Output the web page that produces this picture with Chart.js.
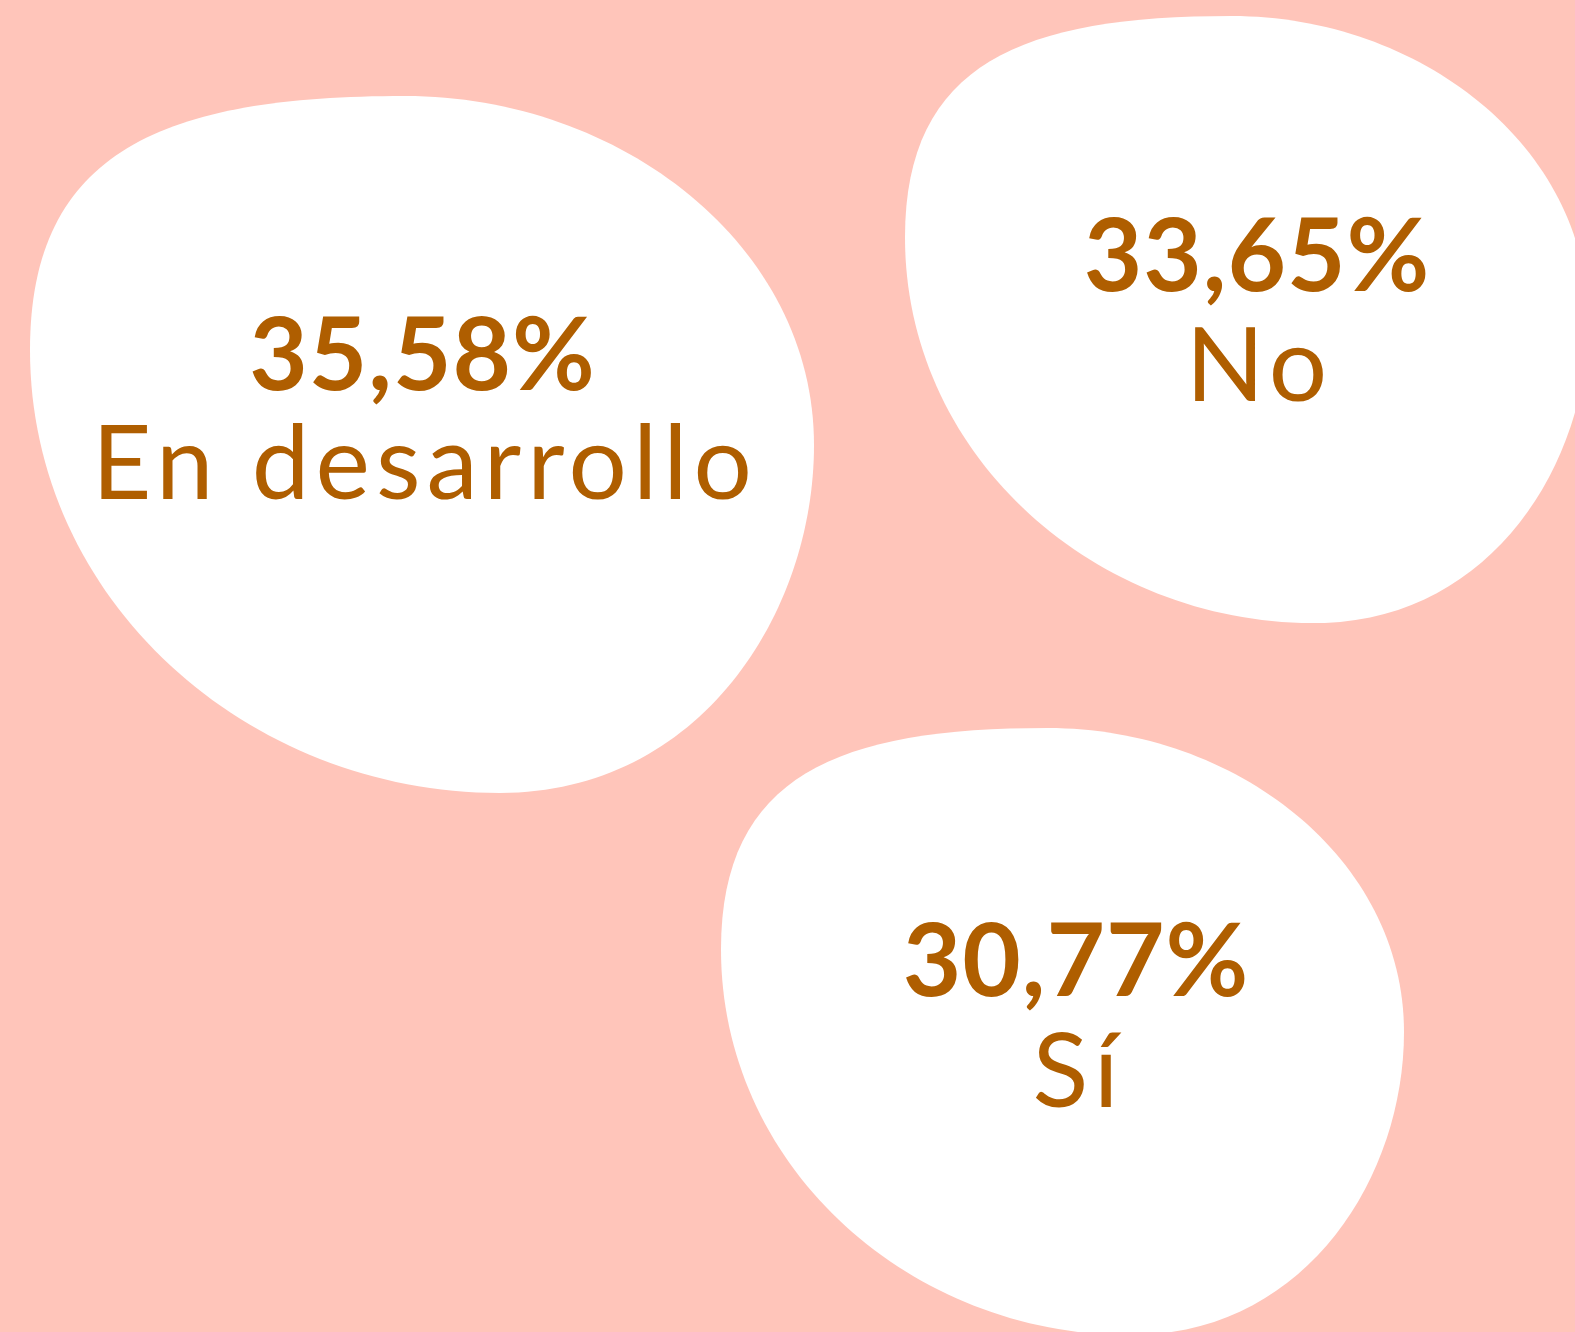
<!DOCTYPE html>
<html>
<head>
<meta charset="utf-8">
<script src="https://cdn.jsdelivr.net/npm/chart.js@4"></script>
<style>
    html, body { margin: 0; padding: 0; background: #FFC5BA; }
    #wrap { width: 1575px; height: 1332px; }
</style>
</head>
<body>
<div id="wrap"><canvas id="blobChart" width="1575" height="1332"></canvas></div>
<script>
// data
const categories = ['En desarrollo', 'No', 'Sí'];
const shares = [35.58, 33.65, 30.77];

// layout (pixels): blob centre, blob width, text offset from blob top-centre
const blobCenterX = [422, 1246.5, 1062.5];
const blobCenterY = [444.5, 319.5, 1031.5];
const blobWidth = [784, 683, 683];
const textShiftX = [0, 10, 13];
const pctBaseline = [294, 275, 268];
const nameBaseline = [403, 385, 379];

const BG = '#FFC5BA';
const INK = '#AF5E00';
const RATIO = 0.889; // blob height / width

// one blob outline, in units of blob width
function blobPath(ctx, w) {
    const p = (a, b) => [a * w, b * w];
    ctx.beginPath();
    ctx.moveTo(...p(0.4783, 0));
    ctx.bezierCurveTo(...p(0.1722, 0), ...p(0, 0.0689), ...p(0, 0.324));
    ctx.bezierCurveTo(...p(0, 0.6429), ...p(0.2768, 0.889), ...p(0.5995, 0.889));
    ctx.bezierCurveTo(...p(0.8546, 0.889), ...p(1, 0.6594), ...p(1, 0.4452));
    ctx.bezierCurveTo(...p(1, 0.19), ...p(0.7526, 0), ...p(0.4783, 0));
    ctx.closePath();
}

function makeBlob(w) {
    const c = document.createElement('canvas');
    c.width = Math.round(w);
    c.height = Math.round(w * RATIO);
    const g = c.getContext('2d');
    g.fillStyle = '#ffffff';
    blobPath(g, w);
    g.fill();
    return c;
}

const background = {
    id: 'background',
    beforeDraw(chart) {
        const { ctx, width, height } = chart;
        ctx.save();
        ctx.fillStyle = BG;
        ctx.fillRect(0, 0, width, height);
        ctx.restore();
    }
};

const blobLabels = {
    id: 'blobLabels',
    afterDatasetsDraw(chart) {
        const { ctx } = chart;
        const meta = chart.getDatasetMeta(0);
        ctx.save();
        ctx.fillStyle = INK;
        ctx.textAlign = 'center';
        ctx.textBaseline = 'alphabetic';
        meta.data.forEach((pt, i) => {
            const top = pt.y - blobWidth[i] * RATIO / 2;
            const x = pt.x + textShiftX[i];
            ctx.letterSpacing = '1px';
            ctx.font = 'bold 101px Lato';
            ctx.fillText(shares[i].toFixed(2).replace('.', ',') + '%', x + 0.5, top + pctBaseline[i]);
            // the original face is wider than Lato, so open the tracking a little
            ctx.letterSpacing = '6px';
            ctx.font = '103px Lato';
            ctx.fillText(categories[i], x + 3, top + nameBaseline[i]);
        });
        ctx.restore();
    }
};

document.addEventListener('DOMContentLoaded', () => {
    const el = document.getElementById('blobChart');

    new Chart(el, {
        type: 'scatter',
        data: {
            labels: categories,
            datasets: [{
                label: 'Respuestas',
                data: shares.map((v, i) => ({ x: blobCenterX[i], y: blobCenterY[i], v })),
                pointStyle: blobWidth.map(makeBlob),
                pointRadius: blobWidth.map(w => w / 2),
                clip: false
            }]
        },
        options: {
            responsive: false,
            animation: false,
            events: [],
            layout: { padding: 0, autoPadding: false },
            plugins: {
                legend: { display: false },
                tooltip: { enabled: false }
            },
            scales: {
                x: { type: 'linear', min: 0, max: 1575, display: false },
                y: { type: 'linear', min: 0, max: 1332, reverse: true, display: false }
            }
        },
        plugins: [background, blobLabels]
    });
});
</script>
</body>
</html>
